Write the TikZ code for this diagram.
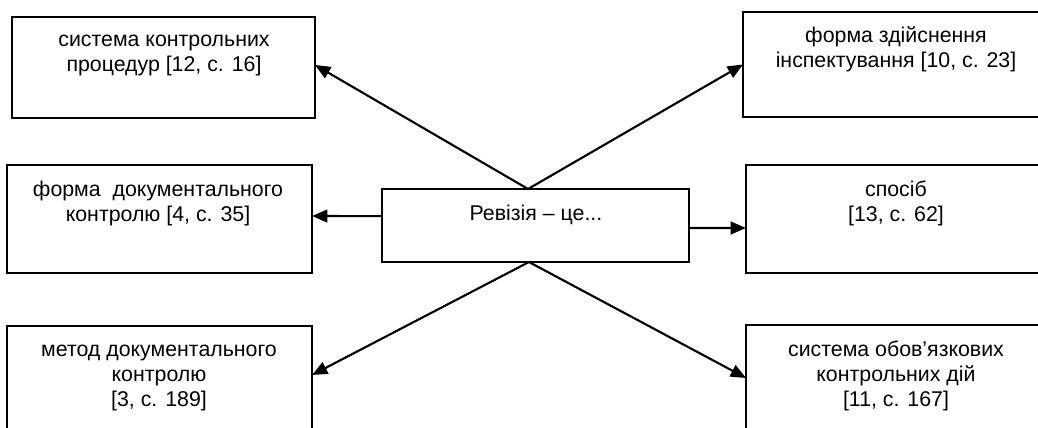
\documentclass[tikz,border=0pt]{standalone}
\usepackage{fontspec}
\setmainfont{Liberation Sans}
\usetikzlibrary{arrows.meta}
\begin{document}
\begin{tikzpicture}[x=0.75pt,y=-0.75pt,
  boxnode/.style 2 args={draw, line width=1.7pt, rectangle, inner sep=0pt, outer sep=0pt,
    minimum width=#1*0.75pt, minimum height=#2*0.75pt},
  txt/.style={anchor=north, inner sep=0pt, align=center, font=\fontsize{16}{18.4}\selectfont},
  conn/.style={line width=1.6pt, -{Triangle[length=11.5pt,width=9.5pt]}}]
\clip (0,0) rectangle (1038,428);
\fill[white] (0,0) rectangle (1038,428);
% boxes
\node[boxnode={303}{101}] (tl) at (163.5,67.5) {};
\node[boxnode={305}{108}] (ml) at (159.5,219) {};
\node[boxnode={305}{110}] (bl) at (159.5,381) {};
\node[boxnode={307}{73}]  (c)  at (535.5,225.5) {};
\node[boxnode={306}{105}] (tr) at (896,64.5) {};
\node[boxnode={306}{108}] (mr) at (899,219) {};
\node[boxnode={306}{111}] (br) at (899,380.5) {};
% texts
\node[txt] (tlt) at (164,30) {\rule{0pt}{12.5pt}система контрольних\\процедур [12, с. 16]};
\node[txt] (mlt) at (158,180) {\rule{0pt}{12.5pt}форма\ \ документального\\контролю [4, с. 35]};
\node[txt] (blt) at (159,340) {\rule{0pt}{12.5pt}метод документального\\контролю\\{[3, с. 189]}};
\node[txt] (ct)  at (536,203.3) {\rule{0pt}{12.5pt}Ревізія – це...};
\node[txt] (trt) at (896,25.7) {\rule{0pt}{12.5pt}форма здійснення\\інспектування [10, с. 23]};
\node[txt] (mrt) at (896,180) {\rule{0pt}{12.5pt}спосіб\\{[13, с. 62]}};
\node[txt] (brt) at (896,340) {\rule{0pt}{12.5pt}система обов’язкових\\контрольних дій\\{[11, с. 167]}};
% connectors
\draw[conn] ([xshift=-5.6pt]c.north) -- ([yshift=1.9pt]tl.east);
\draw[conn] ([xshift=-5.6pt]c.north) -- (tr.west);
\draw[conn] ([yshift=7pt]c.west) -- ([yshift=2.25pt]ml.east);
\draw[conn] ([yshift=-1.9pt]c.east) -- ([yshift=-6.75pt]mr.west);
\draw[conn] ([xshift=-4.9pt]c.south) -- ([yshift=4.5pt]bl.east);
\draw[conn] ([xshift=-4.9pt]c.south) -- ([yshift=1.9pt]br.west);
\end{tikzpicture}
\end{document}
